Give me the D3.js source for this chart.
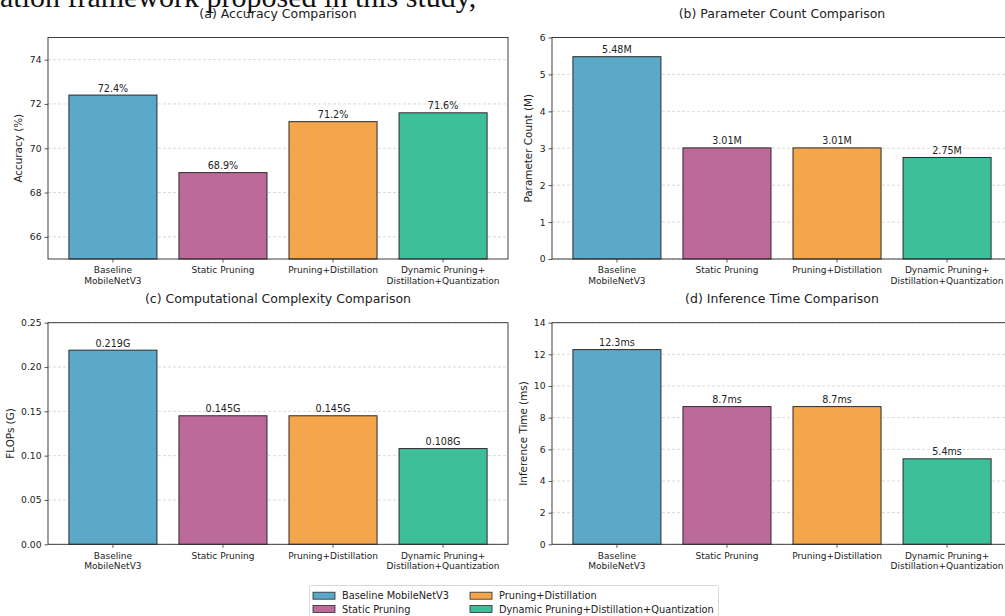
<!DOCTYPE html>
<html>
<head>
<meta charset="utf-8">
<script src="https://cdn.jsdelivr.net/npm/d3@7"></script>
<style>
  html, body { margin: 0; padding: 0; background: #fff; }
  svg { display: block; }
  text { font-family: "DejaVu Sans", sans-serif; fill: #222; }
</style>
</head>
<body>
<svg id="fig" width="1005" height="616"></svg>
<script>
// Method names (two-line tick labels use "\n")
const categories = ["Baseline\nMobileNetV3", "Static Pruning", "Pruning+Distillation", "Dynamic Pruning+\nDistillation+Quantization"];
const legendNames = ["Baseline MobileNetV3", "Static Pruning", "Pruning+Distillation", "Dynamic Pruning+Distillation+Quantization"];
const barColors = ["#5ba8c9", "#bd6a9a", "#f5a54b", "#3ebf9b"];

// Metrics per method
const accuracy = [72.4, 68.9, 71.2, 71.6];
const paramCount = [5.48, 3.01, 3.01, 2.75];
const flops = [0.219, 0.145, 0.145, 0.108];
const inferenceMs = [12.3, 8.7, 8.7, 5.4];

// Axis ticks
const accTicks = [66, 68, 70, 72, 74];
const paramTicks = [0, 1, 2, 3, 4, 5, 6];
const flopTicks = [0.00, 0.05, 0.10, 0.15, 0.20, 0.25];
const timeTicks = [0, 2, 4, 6, 8, 10, 12, 14];

const panels = [
  { title: "(a) Accuracy Comparison", ylabel: "Accuracy (%)", values: accuracy, domain: [65, 75], ticks: accTicks,
    tickFmt: d3.format("d"), valFmt: v => v.toFixed(1) + "%", box: [48, 37.5, 508, 259], labelOff: 26 },
  { title: "(b) Parameter Count Comparison", ylabel: "Parameter Count (M)", values: paramCount, domain: [0, 6], ticks: paramTicks,
    tickFmt: d3.format("d"), valFmt: v => v.toFixed(2) + "M", box: [552, 37.5, 1012, 259], labelOff: 20 },
  { title: "(c) Computational Complexity Comparison", ylabel: "FLOPs (G)", values: flops, domain: [0, 0.25], ticks: flopTicks,
    tickFmt: d3.format(".2f"), valFmt: v => v.toFixed(3) + "G", box: [48, 322.7, 508, 544.3], labelOff: 34 },
  { title: "(d) Inference Time Comparison", ylabel: "Inference Time (ms)", values: inferenceMs, domain: [0, 14], ticks: timeTicks,
    tickFmt: d3.format("d"), valFmt: v => v.toFixed(1) + "ms", box: [552, 322.7, 1012, 544.3], labelOff: 25 }
];

const svg = d3.select("#fig");

// Running text of the surrounding document, clipped at the top edge
svg.append("text")
  .attr("x", 0).attr("y", 7)
  .style("font-family", "'Liberation Serif', serif")
  .style("font-size", "30px")
  .style("fill", "#111")
  .text("ation framework proposed in this study,");

panels.forEach(p => {
  const [x0, y0, x1, y1] = p.box;
  const g = svg.append("g");

  const x = d3.scaleBand().domain(d3.range(categories.length))
    .range([x0, x1]).paddingInner(0.2).paddingOuter(0.19);
  const y = d3.scaleLinear().domain(p.domain).range([y1, y0]);

  // dashed horizontal grid
  g.append("g").selectAll("line").data(p.ticks).join("line")
    .attr("x1", x0).attr("x2", x1)
    .attr("y1", d => y(d)).attr("y2", d => y(d))
    .attr("stroke", "#cfcfcf").attr("stroke-width", 0.8)
    .attr("stroke-dasharray", "3,2");

  // bars
  g.append("g").selectAll("rect").data(p.values).join("rect")
    .attr("x", (d, i) => x(i)).attr("width", x.bandwidth())
    .attr("y", d => y(d)).attr("height", d => y(p.domain[0]) - y(d))
    .attr("fill", (d, i) => barColors[i])
    .attr("stroke", "#2b2b2b").attr("stroke-width", 1);

  // value labels
  g.append("g").selectAll("text").data(p.values).join("text")
    .attr("x", (d, i) => x(i) + x.bandwidth() / 2)
    .attr("y", d => y(d) - 3.5)
    .attr("text-anchor", "middle")
    .style("font-size", "9.6px")
    .text(d => p.valFmt(d));

  // y axis
  const yAxis = g.append("g").attr("transform", `translate(${x0},0)`)
    .call(d3.axisLeft(y).tickValues(p.ticks).tickFormat(p.tickFmt).tickSize(3.5).tickPadding(3));
  yAxis.select(".domain").remove();
  yAxis.selectAll("text").style("font-size", "9.2px").style("fill", "#222").style("font-family", "'DejaVu Sans', sans-serif");
  yAxis.selectAll("line").attr("stroke", "#333").attr("stroke-width", 0.8);

  // x axis with multi-line category labels
  const xAxis = g.append("g").attr("transform", `translate(0,${y1})`)
    .call(d3.axisBottom(x).tickSize(3.5).tickPadding(3).tickFormat(""));
  xAxis.select(".domain").remove();
  xAxis.selectAll("line").attr("stroke", "#333").attr("stroke-width", 0.8);
  xAxis.selectAll(".tick").each(function(d) {
    const lines = categories[d].split("\n");
    const t = d3.select(this).append("text")
      .attr("text-anchor", "middle")
      .style("font-size", "9px").style("fill", "#222")
      .style("font-family", "'DejaVu Sans', sans-serif");
    lines.forEach((ln, k) => {
      t.append("tspan").attr("x", 0).attr("y", 14.3 + k * 10.2).text(ln);
    });
  });

  // frame
  g.append("rect")
    .attr("x", x0).attr("y", y0).attr("width", x1 - x0).attr("height", y1 - y0)
    .attr("fill", "none").attr("stroke", "#2b2b2b").attr("stroke-width", 0.9);

  // title
  g.append("text")
    .attr("x", (x0 + x1) / 2).attr("y", y0 - 19.5)
    .attr("text-anchor", "middle")
    .style("font-size", "12.5px")
    .text(p.title);

  // y label
  g.append("text")
    .attr("transform", `translate(${x0 - p.labelOff},${(y0 + y1) / 2}) rotate(-90)`)
    .attr("text-anchor", "middle")
    .style("font-size", "10.4px")
    .text(p.ylabel);
});

// legend
const lg = svg.append("g");
lg.append("rect")
  .attr("x", 309.5).attr("y", 585.5).attr("width", 409).attr("height", 40)
  .attr("fill", "#fff").attr("stroke", "#d0d0d0").attr("stroke-width", 0.8).attr("rx", 2);
const legendPos = [[313, 595.7], [313, 609], [470, 595.7], [470, 609]];
legendNames.forEach((name, i) => {
  const [lx, ly] = legendPos[i];
  lg.append("rect")
    .attr("x", lx).attr("y", ly - 3.5).attr("width", 22).attr("height", 7)
    .attr("fill", barColors[i]).attr("stroke", "#2b2b2b").attr("stroke-width", 0.8);
  lg.append("text")
    .attr("x", lx + 29).attr("y", ly + 3.5)
    .style("font-size", "9.8px")
    .text(name);
});
</script>
</body>
</html>
